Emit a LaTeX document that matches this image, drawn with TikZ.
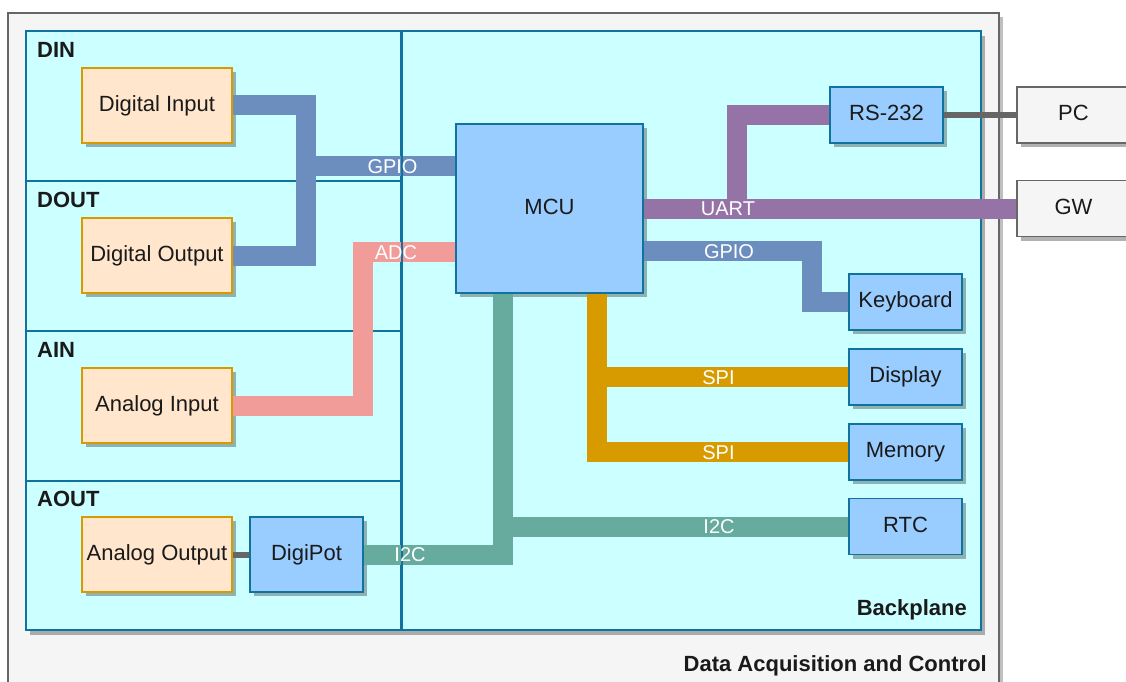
\documentclass[tikz,border=0pt]{standalone}
\usepackage{fontspec}
\setmainfont{Liberation Sans}
\usetikzlibrary{shadows}

\definecolor{outerfill}{HTML}{F5F5F5}
\definecolor{outerline}{HTML}{666666}
\definecolor{bpfill}{HTML}{CCFFFF}
\definecolor{bpline}{HTML}{10739E}
\definecolor{iofill}{HTML}{FFE6CC}
\definecolor{ioline}{HTML}{D79B00}
\definecolor{chipfill}{HTML}{99CCFF}
\definecolor{chipline}{HTML}{10739E}
\definecolor{gpiocol}{HTML}{6C8EBF}
\definecolor{adccol}{HTML}{F19C99}
\definecolor{i2ccol}{HTML}{67AB9F}
\definecolor{spicol}{HTML}{D79B00}
\definecolor{uartcol}{HTML}{9673A6}
\definecolor{wirecol}{HTML}{666666}
\definecolor{txt}{HTML}{1A1A1A}

\newcommand{\dgmfont}{\fontsize{22}{26}\selectfont}
\newcommand{\dgmsmall}{\fontsize{20}{24}\selectfont}

\tikzset{
  shadowed/.style={drop shadow={shadow xshift=4pt, shadow yshift=-4pt, opacity=0.3, fill=black}},
  blockbase/.style={line width=1.7pt, shadowed, font=\dgmfont, text=txt,
    text height=15.8pt, text depth=4pt, inner sep=1pt},
  io/.style={blockbase, draw=ioline, fill=iofill, minimum width=150pt, minimum height=75pt},
  chip/.style={blockbase, draw=chipline, fill=chipfill, minimum width=113pt, minimum height=56pt},
  ext/.style={blockbase, draw=outerline, fill=outerfill, minimum width=113pt, minimum height=56pt},
  panel/.style={draw=bpline, fill=bpfill, line width=1.7pt, inner sep=0pt, anchor=north west},
  bus/.style={line width=20pt, line join=miter},
  wire/.style={line width=6pt, draw=wirecol},
  buslabel/.style={text=white, font=\dgmsmall, inner sep=0pt, text height=14.4pt, text depth=0pt},
  title/.style={font=\dgmfont\bfseries, text=txt, inner sep=0pt, text height=15.8pt, text depth=0pt}
}

\begin{document}
\begin{tikzpicture}[x=1pt, y=-1pt]
\clip (0,0) rectangle (1126,682);
\fill[white] (0,0) rectangle (1126,682);

% enclosing system frame
\node[panel, draw=outerline, fill=outerfill, line width=1.7pt,
  drop shadow={shadow xshift=4pt, shadow yshift=-4pt, opacity=0.25, fill=black},
  minimum width=991pt, minimum height=700pt] (system) at (7,12) {};

% backplane and its I/O slots
\node[panel, drop shadow={shadow xshift=4pt, shadow yshift=-5pt, opacity=0.3, fill=black},
  minimum width=955pt, minimum height=599pt] (backplane) at (25,30) {};
\node[panel, minimum width=375pt, minimum height=150pt] (dinslot)  at (25,30)  {};
\node[panel, minimum width=375pt, minimum height=150pt] (doutslot) at (25,180) {};
\node[panel, minimum width=375pt, minimum height=150pt] (ainslot)  at (25,330) {};
\node[panel, minimum width=375pt, minimum height=149pt] (aoutslot) at (25,480) {};

\node[title, anchor=west] (dinlbl)  at (37,50)  {DIN};
\node[title, anchor=west] (doutlbl) at (37,200) {DOUT};
\node[title, anchor=west] (ainlbl)  at (37,350) {AIN};
\node[title, anchor=west] (aoutlbl) at (37,499) {AOUT};
\node[title, anchor=east] (bplbl)   at (967,607.5) {Backplane};
\node[title, anchor=east] (syslbl)  at (987,663.5) {Data Acquisition and Control};

% blocks
\node[io] (din)  at (157,105.5) {Digital Input};
\node[io] (dout) at (157,255.5) {Digital Output};
\node[io] (ain)  at (157,405.5) {Analog Input};
\node[io] (aout) at (157,554.5) {Analog Output};
\node[chip, minimum height=75pt] (digipot) at (306.5,554.5) {DigiPot};
\node[chip, minimum width=187pt, minimum height=169pt] (mcu) at (549.5,208.5) {MCU};
\node[chip] (rs232)    at (886.5,115)   {RS-232};
\node[chip] (keyboard) at (905.5,302)   {Keyboard};
\node[chip] (display)  at (905.5,377)   {Display};
\node[chip] (memory)   at (905.5,452)   {Memory};
\node[chip] (rtc)      at (905.5,526.5) {RTC};
\node[ext]  (pc) at (1073.5,115)   {PC};
\node[ext]  (gw) at (1073.5,208.5) {GW};

% bus routing points
\coordinate (gpioJ) at (306,166);
\coordinate (adcJ)  at (363,252);
\coordinate (i2cX)  at (503,0);
\coordinate (spiX)  at (597,0);
\coordinate (uartJ) at (737,115);
\coordinate (kbJ)   at (812,251);

% buses
\draw[bus, gpiocol] (din.east)  -| (gpioJ) -- (gpioJ -| mcu.west);
\draw[bus, gpiocol] (dout.east) -| (gpioJ) -- (gpioJ -| mcu.west);
\draw[bus, adccol]  (ain.east)  -| (adcJ)  -- (adcJ -| mcu.west);
\draw[bus, i2ccol]  (digipot.east) -| (i2cX |- mcu.south);
\draw[bus, i2ccol]  (i2cX |- mcu.south) |- (rtc.west);
\draw[bus, spicol]  (spiX |- mcu.south) |- (display.west);
\draw[bus, spicol]  (spiX |- mcu.south) |- (memory.west);
\draw[bus, uartcol] (mcu.east) -| (uartJ) -- (rs232.west);
\draw[bus, uartcol] (mcu.east) -- (gw.west);
\draw[bus, gpiocol] (kbJ -| mcu.east) -- (kbJ) |- (keyboard.west);
\draw[wire] (rs232.east) -- (pc.west);
\draw[wire] (aout.east) -- (digipot.west);

% slot divider
\draw[bpline, line width=1.7pt] (dinslot.north east) -- (aoutslot.south east);

% bus labels
\node[buslabel] (l1) at (392.5,166) {GPIO};
\node[buslabel] (l2) at (396,252)   {ADC};
\node[buslabel] (l3) at (410,554.5) {I2C};
\node[buslabel] (l4) at (728,208.5) {UART};
\node[buslabel] (l5) at (729,251)   {GPIO};
\node[buslabel] (l6) at (718.5,377) {SPI};
\node[buslabel] (l7) at (718.5,452) {SPI};
\node[buslabel] (l8) at (719,526.5) {I2C};
\end{tikzpicture}
\end{document}
